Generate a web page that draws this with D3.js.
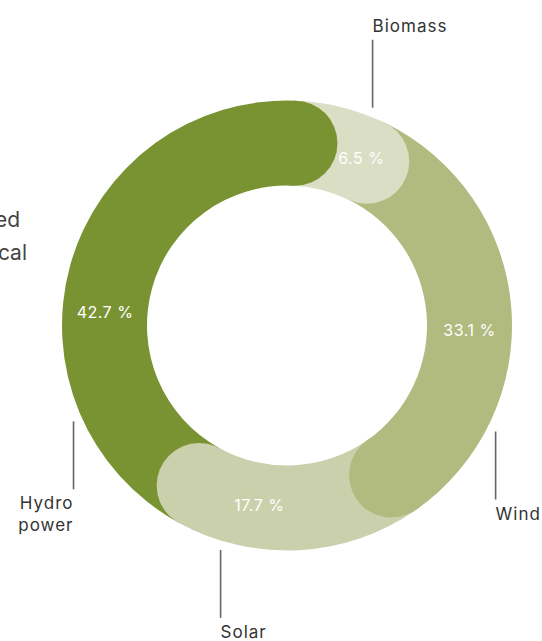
<!DOCTYPE html>
<html>
<head>
<meta charset="utf-8">
<script src="https://cdn.jsdelivr.net/npm/d3@7"></script>
<style>
  html, body { margin: 0; padding: 0; background: #fff; }
  svg { display: block; font-family: Inter, "Noto Sans", sans-serif; }
</style>
</head>
<body>
<svg id="area" width="542" height="641"></svg>
<script>
const sources = ['Biomass', 'Wind', 'Solar', 'Hydro power'];
const shares = [6.5, 33.1, 17.7, 42.7];
const colours = ['#d9dec4', '#b1bb80', '#cbd0ac', '#7a9332'];

// where the percentage and the leader line sit inside each slice (0 = start, 1 = end)
const labelAt = [0.92, 0.55, 0.685, 0.426];
const leaderAt = [0.81, 0.764, 0.807, 0.241];
const anchors = ['start', 'start', 'start', 'end'];

const svg = d3.select('#area');
const cx = 287;
const cy = 325.5;
const outer = 225;
const inner = 140;
const mid = (outer + inner) / 2;
const cap = (outer - inner) / 2;
const offset = 2.5 * Math.PI / 180;

const rows = sources.map((name, i) => ({ name, value: shares[i], colour: colours[i], i }));

const pie = d3.pie()
  .sort(null)
  .value((d) => d.value)
  .startAngle(offset)
  .endAngle(offset + 2 * Math.PI);

const arcs = pie(rows);
const arc = d3.arc().innerRadius(inner).outerRadius(outer);
const at = (a, r) => [cx + r * Math.sin(a), cy - r * Math.cos(a)];
const lerp = (d, t) => d.startAngle + (d.endAngle - d.startAngle) * t;

// cut-off heading on the left
const head = svg.append('g')
  .attr('fill', '#444')
  .attr('font-size', 21)
  .attr('text-anchor', 'end');
head.append('text').attr('x', 20).attr('y', 227).text('installed');
head.append('text').attr('x', 27).attr('y', 260).text('electrical');

const g = svg.append('g');

g.selectAll('path.slice')
  .data(arcs)
  .join('path')
  .attr('class', 'slice')
  .attr('transform', `translate(${cx},${cy})`)
  .attr('d', arc)
  .attr('fill', (d) => d.data.colour);

// rounded ends lying over the next slice
g.selectAll('circle.cap')
  .data(arcs)
  .join('circle')
  .attr('class', 'cap')
  .attr('cx', (d) => at(d.endAngle, mid)[0])
  .attr('cy', (d) => at(d.endAngle, mid)[1])
  .attr('r', cap)
  .attr('fill', (d) => d.data.colour);

g.selectAll('text.pct')
  .data(arcs)
  .join('text')
  .attr('class', 'pct')
  .attr('x', (d) => at(lerp(d, labelAt[d.data.i]), mid)[0])
  .attr('y', (d) => at(lerp(d, labelAt[d.data.i]), mid)[1])
  .attr('dy', '0.35em')
  .attr('text-anchor', 'middle')
  .attr('fill', '#fff')
  .attr('font-size', 16)
  .attr('letter-spacing', 0.5)
  .text((d) => `${d.value} %`);

// leader lines and names
const lead = svg.append('g');
arcs.forEach((d) => {
  const a = lerp(d, leaderAt[d.data.i]);
  const [x, y] = at(a, 234);
  const up = Math.cos(a) > 0;
  const y2 = up ? y - 68 : y + 68;
  lead.append('line')
    .attr('x1', x).attr('x2', x)
    .attr('y1', y).attr('y2', y2)
    .attr('stroke', '#666')
    .attr('stroke-width', 1.6);
  const t = lead.append('text')
    .attr('x', x)
    .attr('y', up ? y2 - 8 : y2 + 20)
    .attr('text-anchor', anchors[d.data.i])
    .attr('fill', '#333')
    .attr('font-size', 17)
    .attr('letter-spacing', 1);
  const words = d.data.name.split(' ');
  words.forEach((w, k) => {
    t.append('tspan').attr('x', x).attr('dy', k ? 22 : 0).text(w);
  });
});
</script>
</body>
</html>
